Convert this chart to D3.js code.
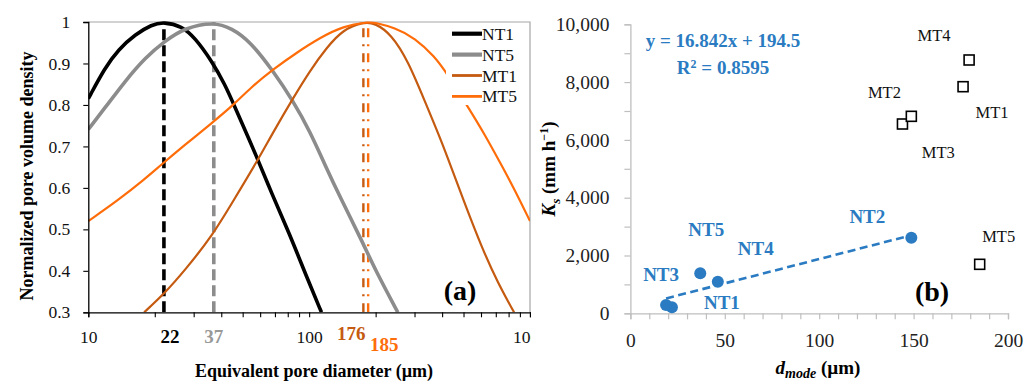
<!DOCTYPE html>
<html><head><meta charset="utf-8">
<script src="https://cdn.jsdelivr.net/npm/d3@7"></script>
<style>
html,body{margin:0;padding:0;background:#fff;}
svg{display:block;font-family:"Liberation Serif","Times New Roman",serif;}
</style></head>
<body><svg id="c" width="1035" height="383"></svg>
<script>
// ---------- Panel (a) data: normalized pore volume density ----------
const nt1D = [10, 11.9, 13.7, 16.3, 19.4, 22, 26.5, 30.4, 36.2, 41.6, 45.6, 58.7, 67.6, 81.8, 96.6, 113.7];
const nt1V = [0.815, 0.890, 0.934, 0.970, 0.994, 1.0, 0.990, 0.962, 0.906, 0.849, 0.801, 0.668, 0.587, 0.487, 0.390, 0.300];
const nt5D = [10, 11.9, 14.7, 18.1, 22.2, 27.4, 37, 44.6, 53.9, 68.7, 84.7, 100.7, 117.8, 137.7, 175.4, 198, 252];
const nt5V = [0.741, 0.793, 0.858, 0.914, 0.954, 0.986, 1.0, 0.985, 0.954, 0.882, 0.809, 0.737, 0.656, 0.579, 0.467, 0.405, 0.300];
const mt1D = [17.9, 22.2, 27.4, 36.2, 46.1, 58.7, 68.7, 84.7, 100.7, 119.9, 142.5, 176, 198, 236, 280.5, 334, 397, 441, 506, 603, 716, 847];
const mt1V = [0.300, 0.346, 0.402, 0.482, 0.575, 0.668, 0.734, 0.817, 0.882, 0.938, 0.982, 1.0, 0.998, 0.970, 0.906, 0.809, 0.713, 0.648, 0.563, 0.458, 0.370, 0.300];
const mt5D = [10, 13.7, 18.1, 21.1, 27.4, 36.2, 46.1, 53.9, 68.7, 87.7, 112, 142.5, 185, 198, 244, 301, 371, 418, 524, 624, 755, 853, 1000];
const mt5V = [0.520, 0.571, 0.622, 0.653, 0.704, 0.756, 0.803, 0.840, 0.886, 0.926, 0.962, 0.990, 1.0, 0.999, 0.986, 0.962, 0.916, 0.878, 0.795, 0.729, 0.648, 0.595, 0.520];
const seriesNames = ["NT1", "NT5", "MT1", "MT5"];
const modeValues = [22, 37, 176, 185];
const modeLabels = ["22", "37", "176", "185"];
const xTicksA = [10, 20, 30, 40, 50, 60, 70, 80, 90, 100, 200, 300, 400, 500, 600, 700, 800, 900, 1000];
const xLabelsA = [10, 100, 1000];
const yTicksA = [0.3, 0.4, 0.5, 0.6, 0.7, 0.8, 0.9, 1.0];

// ---------- Panel (b) data: Ks vs d_mode ----------
const ntNames = ["NT1", "NT2", "NT3", "NT4", "NT5"];
const ntX = [22, 148.8, 18.9, 46.3, 37];
const ntY = [207, 2616, 287, 1093, 1384];
const mtNames = ["MT1", "MT2", "MT3", "MT4", "MT5"];
const mtX = [176.2, 144.1, 148.8, 179.4, 185];
const mtY = [7841, 6550, 6816, 8765, 1695];
const fitSlope = 16.842, fitIntercept = 194.5, fitR2 = 0.8595;
const xTicksB = [0, 10, 20, 30, 40, 50, 60, 70, 80, 90, 100, 110, 120, 130, 140, 150, 160, 170, 180, 190, 200];
const yTicksB = [0, 1000, 2000, 3000, 4000, 5000, 6000, 7000, 8000, 9000, 10000];

const svg = d3.select("#c");
const BLUE = "#2A7BC1", BROWN = "#C55A11", ORANGE = "#FF6D0A", GRAY = "#8C8C8C";

// ================= Panel (a) =================
const defs = svg.append("defs");
defs.append("clipPath").attr("id", "clipA")
  .append("rect").attr("x", 0).attr("y", 0).attr("width", 531).attr("height", 383);
const gA = svg.append("g").attr("clip-path", "url(#clipA)");
const xA = d3.scaleLog().domain([10, 1000]).range([88.3, 530]);
const yA = d3.scaleLinear().domain([0.3, 1]).range([312.3, 22]);

gA.append("path").attr("d", `M${xA(10)},${yA(1)}H${xA(1000)}V${yA(0.3)}`)
  .attr("fill", "none").attr("stroke", "#A6A6A6").attr("stroke-width", 1.2);

defs.append("clipPath").attr("id", "plotA")
  .append("rect").attr("x", xA(10)).attr("y", yA(1) - 3).attr("width", xA(1000) - xA(10)).attr("height", yA(0.3) - yA(1) + 3);

const curves = [
  {d: nt1D, v: nt1V, color: "#000", w: 3.6},
  {d: nt5D, v: nt5V, color: GRAY, w: 3.6},
  {d: mt1D, v: mt1V, color: BROWN, w: 2.2},
  {d: mt5D, v: mt5V, color: ORANGE, w: 2.2}
];
const line = d3.line().curve(d3.curveBasis);
const curveG = gA.append("g").attr("clip-path", "url(#plotA)");

const modeStyles = [
  {color: "#000", w: 3.6, dash: "11,5"},
  {color: GRAY, w: 3.6, dash: "11,5"},
  {color: BROWN, w: 2.4, dash: "9,7,2,7"},
  {color: ORANGE, w: 2.4, dash: "9,7,2,7"}
];
modeValues.forEach((m, i) => {
  curveG.append("line").attr("x1", xA(m)).attr("x2", xA(m)).attr("y1", yA(0.3)).attr("y2", yA(1))
    .attr("stroke", modeStyles[i].color).attr("stroke-width", modeStyles[i].w)
    .attr("stroke-dasharray", modeStyles[i].dash);
});
curves.forEach(c => {
  curveG.append("path").attr("d", line(c.d.map((d, i) => [xA(d), yA(c.v[i])])))
    .attr("fill", "none").attr("stroke", c.color).attr("stroke-width", c.w);
});

const axYA = gA.append("g").attr("transform", `translate(${xA(10)},0)`)
  .call(d3.axisLeft(yA).tickValues(yTicksA).tickSize(5).tickPadding(13)
    .tickFormat(d => d === 1 ? "1" : d.toFixed(1)));
const axXA = gA.append("g").attr("transform", `translate(0,${yA(0.3)})`)
  .call(d3.axisBottom(xA).tickValues(xTicksA).tickSize(5).tickPadding(13)
    .tickFormat(d => xLabelsA.includes(d) ? String(d) : ""));
[axYA, axXA].forEach(a => {
  a.select(".domain").attr("stroke", "#000").attr("stroke-width", 1.3);
  a.selectAll(".tick line").attr("stroke", "#000").attr("stroke-width", 1.1);
  a.selectAll("text").attr("font-size", 17.5).attr("fill", "#111")
    .attr("font-family", "Liberation Serif, serif");
});

const modeLabelStyle = [
  {color: "#000", dx: 6, y: 343},
  {color: "#999", dx: 0, y: 343},
  {color: BROWN, dx: -12, y: 340},
  {color: ORANGE, dx: 16, y: 351}
];
modeValues.forEach((m, i) => {
  gA.append("text").attr("x", xA(m) + modeLabelStyle[i].dx).attr("y", modeLabelStyle[i].y)
    .attr("text-anchor", "middle").attr("font-size", 19).attr("font-weight", "bold")
    .attr("fill", modeLabelStyle[i].color).text(modeLabels[i]);
});

gA.append("text").attr("transform", "translate(32.5,176) rotate(-90)")
  .attr("text-anchor", "middle").attr("font-size", 18).attr("font-weight", "bold")
  .text("Normalized pore volume density");
gA.append("text").attr("x", 314).attr("y", 377).attr("text-anchor", "middle")
  .attr("font-size", 18).attr("font-weight", "bold").text("Equivalent pore diameter (µm)");

const leg = gA.append("g");
leg.append("rect").attr("x", 446).attr("y", 24).attr("width", 82).attr("height", 81).attr("fill", "#fff");
seriesNames.forEach((n, i) => {
  const yy = 33.7 + i * 20.9;
  leg.append("line").attr("x1", 452).attr("x2", 482).attr("y1", yy).attr("y2", yy)
    .attr("stroke", curves[i].color).attr("stroke-width", curves[i].w + 0.6);
  leg.append("text").attr("x", 482).attr("y", yy + 6).attr("font-size", 17.5).attr("fill", "#111").text(n);
});

gA.append("text").attr("x", 460).attr("y", 300).attr("text-anchor", "middle")
  .attr("font-size", 28).attr("font-weight", "bold").text("(a)");

// ================= Panel (b) =================
const gB = svg.append("g");
const xB = d3.scaleLinear().domain([0, 200]).range([630.4, 1008]);
const yB = d3.scaleLinear().domain([0, 10000]).range([313.3, 24.3]);
const axXB = gB.append("g").attr("transform", `translate(0,${yB(0)})`)
  .call(d3.axisBottom(xB).tickValues(xTicksB).tickSize(6).tickPadding(14)
    .tickFormat(d => d % 50 === 0 ? String(d) : ""));
const axYB = gB.append("g").attr("transform", `translate(${xB(0)},0)`)
  .call(d3.axisLeft(yB).tickValues(yTicksB).tickSize(6).tickPadding(15)
    .tickFormat(d => d % 2000 === 0 ? d3.format(",")(d) : ""));
[axXB, axYB].forEach(a => {
  a.select(".domain").attr("stroke", "#BFBFBF").attr("stroke-width", 1.3);
  a.selectAll(".tick line").attr("stroke", "#BFBFBF").attr("stroke-width", 1.2);
  a.selectAll("text").attr("font-size", 19.5).attr("fill", "#222")
    .attr("font-family", "Liberation Serif, serif");
});

const xMin = d3.min(ntX), xMax = d3.max(ntX);
gB.append("line").attr("x1", xB(xMin)).attr("y1", yB(fitSlope * xMin + fitIntercept))
  .attr("x2", xB(xMax)).attr("y2", yB(fitSlope * xMax + fitIntercept))
  .attr("stroke", BLUE).attr("stroke-width", 2.6).attr("stroke-dasharray", "8,4.5");

gB.selectAll("circle.nt").data(ntX).enter().append("circle")
  .attr("cx", (d) => xB(d)).attr("cy", (d, i) => yB(ntY[i])).attr("r", 6).attr("fill", BLUE);
gB.selectAll("rect.mt").data(mtX).enter().append("rect")
  .attr("x", d => xB(d) - 5).attr("y", (d, i) => yB(mtY[i]) - 5).attr("width", 10).attr("height", 10)
  .attr("fill", "#fff").attr("stroke", "#000").attr("stroke-width", 1.6);

const ntLabelOff = [[50, 2], [-44, -15], [-5, -24], [38, -27], [6, -37]];
ntNames.forEach((n, i) => {
  gB.append("text").attr("x", xB(ntX[i]) + ntLabelOff[i][0]).attr("y", yB(ntY[i]) + ntLabelOff[i][1])
    .attr("text-anchor", "middle").attr("font-size", 19).attr("font-weight", "bold")
    .attr("fill", BLUE).text(n);
});
const mtLabelOff = [[29, 31], [-18, -26], [27, 42], [-35, -19], [19, -22]];
mtNames.forEach((n, i) => {
  gB.append("text").attr("x", xB(mtX[i]) + mtLabelOff[i][0]).attr("y", yB(mtY[i]) + mtLabelOff[i][1])
    .attr("text-anchor", "middle").attr("font-size", 16.5).attr("fill", "#111").text(n);
});

gB.append("text").attr("x", 723).attr("y", 47).attr("text-anchor", "middle")
  .attr("font-size", 19).attr("font-weight", "bold").attr("fill", BLUE)
  .text(`y = ${fitSlope}x + ${fitIntercept}`);
const r2 = gB.append("text").attr("x", 723).attr("y", 74).attr("text-anchor", "middle")
  .attr("font-size", 19).attr("font-weight", "bold").attr("fill", BLUE);
r2.append("tspan").text("R");
r2.append("tspan").attr("font-size", 12).attr("dy", -6).text("2");
r2.append("tspan").attr("dy", 6).text(` = ${fitR2}`);

const xt = gB.append("text").attr("x", 818).attr("y", 374).attr("text-anchor", "middle")
  .attr("font-size", 19).attr("font-weight", "bold");
xt.append("tspan").attr("font-style", "italic").text("d");
xt.append("tspan").attr("font-style", "italic").attr("font-size", 14).attr("dy", 4).text("mode");
xt.append("tspan").attr("dy", -4).text(" (µm)");

const yt = gB.append("text").attr("transform", "translate(555,169) rotate(-90)")
  .attr("text-anchor", "middle").attr("font-size", 19).attr("font-weight", "bold");
yt.append("tspan").attr("font-style", "italic").text("K");
yt.append("tspan").attr("font-style", "italic").attr("font-size", 13).attr("dy", 5).text("s");
yt.append("tspan").attr("dy", -5).text(" (mm h");
yt.append("tspan").attr("font-size", 12).attr("dy", -7).text("−1");
yt.append("tspan").attr("dy", 7).text(")");

gB.append("text").attr("x", 932).attr("y", 301).attr("text-anchor", "middle")
  .attr("font-size", 28).attr("font-weight", "bold").text("(b)");
</script></body></html>
